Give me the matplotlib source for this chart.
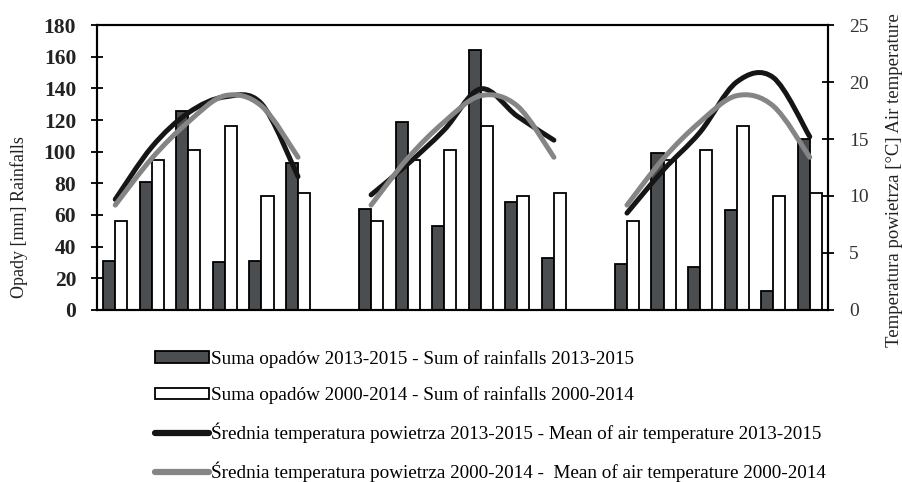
import matplotlib
matplotlib.use("Agg")
import matplotlib.pyplot as plt
from matplotlib.path import Path
from matplotlib.patches import PathPatch, Patch
from matplotlib.lines import Line2D
import numpy as np

# Monthly rainfall (mm) for three seasons, six months each
rain_2013_2015 = [
    [31, 81, 126, 30, 31, 93],
    [64, 119, 53, 164, 68, 33],
    [29, 99, 27, 63, 12, 108],
]
rain_2000_2014 = [56, 95, 101, 116, 72, 74]

# Mean air temperature (°C)
temp_2013_2015 = [
    [9.7, 14.3, 17.3, 18.7, 18.1, 11.7],
    [10.1, 12.8, 15.8, 19.4, 17.0, 14.9],
    [8.5, 12.3, 15.6, 20.0, 20.4, 15.2],
]
temp_2000_2014 = [9.2, 13.3, 16.5, 18.8, 17.9, 13.4]

labels = [
    "Suma opadów 2013-2015 - Sum of rainfalls 2013-2015",
    "Suma opadów 2000-2014 - Sum of rainfalls 2000-2014",
    "Średnia temperatura powietrza 2013-2015 - Mean of air temperature 2013-2015",
    "Średnia temperatura powietrza 2000-2014 -  Mean of air temperature 2000-2014",
]

DARK = "#4b4e50"
LINE_BLACK = "#151515"
LINE_GRAY = "#858585"
SERIF = "Liberation Serif"


def smooth_path(xs, ys):
    """Cubic Bezier path through the points (spreadsheet-style smoothing)."""
    pts = np.column_stack([xs, ys]).astype(float)
    n = len(pts)
    verts = [pts[0]]
    codes = [Path.MOVETO]
    for i in range(n - 1):
        p0 = pts[max(i - 1, 0)]
        p1 = pts[i]
        p2 = pts[i + 1]
        p3 = pts[min(i + 2, n - 1)]
        c1 = p1 + (p2 - p0) / 6.0
        c2 = p2 - (p3 - p1) / 6.0
        verts += [c1, c2, p2]
        codes += [Path.CURVE4] * 3
    return Path(np.array(verts), codes)


fig = plt.figure(figsize=(9.02, 4.82), dpi=100)
ax = fig.add_axes([0.1075, 0.357, 0.8105, 0.591])
ax2 = ax.twinx()

width = 0.33
for g in range(3):
    xs = np.arange(6) + g * 7
    ax.bar(xs - width / 2, rain_2013_2015[g], width, color=DARK,
           edgecolor="black", linewidth=1.3, zorder=2)
    ax.bar(xs + width / 2, rain_2000_2014, width, color="white",
           edgecolor="black", linewidth=1.3, zorder=2)
    for ys, col in ((temp_2013_2015[g], LINE_BLACK), (temp_2000_2014, LINE_GRAY)):
        patch = PathPatch(smooth_path(xs, ys), facecolor="none", edgecolor=col,
                          linewidth=3.6, capstyle="round", joinstyle="round")
        ax2.add_patch(patch)

ax.set_xlim(-0.5, 19.5)
ax.set_ylim(0, 180)
ax.set_yticks(np.arange(0, 181, 20))
ax2.set_ylim(0, 25)
ax2.set_yticks(np.arange(0, 26, 5))
ax.set_xticks([])

for sp in list(ax.spines.values()) + list(ax2.spines.values()):
    sp.set_linewidth(1.5)
    sp.set_color("black")

ax.tick_params(axis="y", direction="inout", length=8, width=1.3, pad=11)
ax2.tick_params(axis="y", direction="inout", length=8, width=1.3, pad=11)
for t in ax.get_yticklabels():
    t.set_fontfamily(SERIF)
    t.set_fontsize(15.5)
    t.set_fontweight("bold")
    t.set_color("#222222")
for t in ax2.get_yticklabels():
    t.set_fontfamily(SERIF)
    t.set_fontsize(14)
    t.set_color("#333333")

fig.text(0.021, 1 - 217 / 482, "Opady [mm] Rainfalls", rotation=90, ha="center",
         va="center", fontsize=13, family=SERIF, color="#222222")
fig.text(0.992, 1 - 180 / 482, "Temperatura powietrza [°C] Air temperature",
         rotation=90, ha="center", va="center", fontsize=13.5, family=SERIF,
         color="#222222")

handles = [
    Patch(facecolor=DARK, edgecolor="black", linewidth=1.3),
    Patch(facecolor="white", edgecolor="black", linewidth=1.3),
    Line2D([], [], color=LINE_BLACK, linewidth=4.5, solid_capstyle="round"),
    Line2D([], [], color=LINE_GRAY, linewidth=4.5, solid_capstyle="round"),
]
fig.legend(handles, labels, loc="upper left", bbox_to_anchor=(155 / 902, 1 - 350 / 482),
           frameon=False, prop={"family": SERIF, "size": 13.8}, handlelength=2.8,
           handletextpad=0.1, labelspacing=0.96, borderpad=0, borderaxespad=0,
           handleheight=0.55)

fig.savefig("out.png", dpi=100)
